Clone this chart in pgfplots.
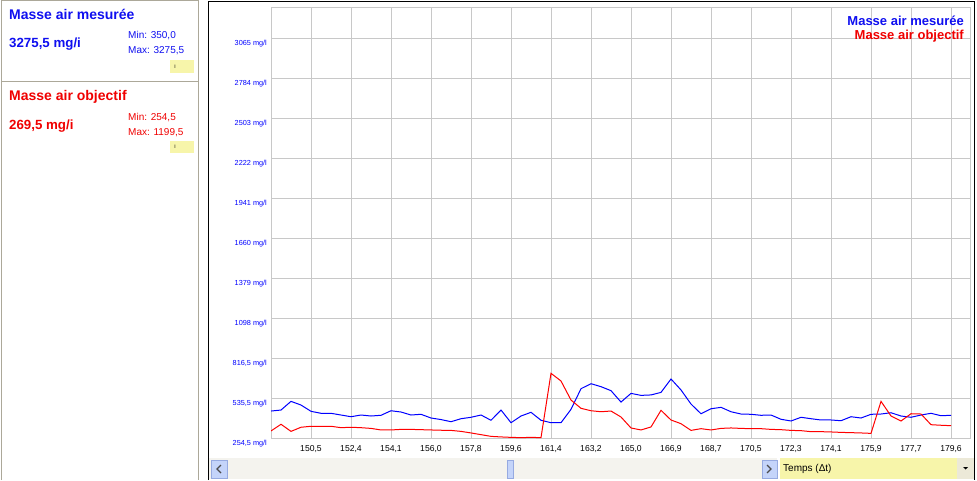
\documentclass[border=0pt]{standalone}
\usepackage{pgfplots}
\pgfplotsset{compat=1.18}
\usepackage{fontspec}
\setmainfont{Liberation Sans}

\definecolor{tblue}{RGB}{15,15,240}
\definecolor{tred}{RGB}{240,0,0}
\definecolor{lblue}{RGB}{0,0,255}
\definecolor{lred}{RGB}{255,0,0}
\definecolor{gridgray}{RGB}{200,200,200}
\definecolor{panelline}{RGB}{172,168,153}
\definecolor{noteyellow}{RGB}{247,245,170}
\definecolor{xpgray}{RGB}{236,233,216}
\definecolor{scrollbg}{RGB}{244,243,238}
\definecolor{btnblue}{RGB}{196,212,250}
\definecolor{btnline}{RGB}{150,170,225}

\newcommand\fs[1]{\fontsize{#1}{#1}\selectfont}

% mesured air mass, one point every 10 px (x = point index)
\pgfplotstableread{
i  v
0  444
1  451
2  512
3  486
4  442
5  428
6  428
7  416
8  404
9  416
10 409
11 414
12 446
13 437
14 416
15 421
16 395
17 384
18 369
19 390
20 400
21 416
22 379
23 451
24 362
25 409
26 435
27 379
28 362
29 362
30 456
31 601
32 636
33 615
34 587
35 507
36 568
37 554
38 557
39 575
40 669
41 592
42 493
43 425
44 460
45 470
46 439
47 423
48 421
49 414
50 416
51 386
52 374
53 400
54 390
55 381
56 381
57 376
58 404
59 395
60 421
61 423
62 432
63 409
64 400
65 416
66 428
67 411
68 414
}\mesuree

% target air mass
\pgfplotstableread{
i  v
0  304
1  351
2  301
3  330
4  337
5  337
6  337
7  327
8  330
9  327
10 322
11 311
12 311
13 315
14 315
15 313
16 311
17 309
18 308
19 301
20 290
21 278
22 266
23 262
24 259
25 257
26 259
27 257
28 709
29 655
30 521
31 463
32 446
33 439
34 444
35 402
36 325
37 311
38 332
39 449
40 381
41 355
42 308
43 320
44 311
45 322
46 325
47 322
48 320
49 320
50 315
51 313
52 308
53 306
54 299
55 299
56 297
57 294
58 292
59 290
60 287
61 512
62 409
63 374
64 425
65 423
66 348
67 344
68 341
}\objectif

\begin{document}
\begin{tikzpicture}
\path[use as bounding box, fill=white] (0pt,0pt) rectangle (977pt,480pt);

% left panel
\draw[panelline, line width=1pt] (1pt,0pt) -- (1pt,479pt) -- (198pt,479pt) -- (198pt,0pt);
\draw[panelline, line width=1pt] (1pt,398pt) -- (198pt,398pt);

\node[anchor=base west, inner sep=0pt, text=tblue, font=\bfseries\fs{14}] at (9pt,460pt) {Masse air mesurée};
\node[anchor=base west, inner sep=0pt, text=tblue, font=\bfseries\fs{13.3}] at (9pt,432pt) {3275,5 mg/i};
\node[anchor=base west, inner sep=0pt, text=tblue, font=\fs{10}] at (128pt,441pt) {Min: 350,0};
\node[anchor=base west, inner sep=0pt, text=tblue, font=\fs{10}] at (128pt,426.7pt) {Max: 3275,5};
\fill[noteyellow] (170pt,407pt) rectangle (194pt,420pt);
\node[inner sep=0pt, font=\fs{5}] at (175pt,413.5pt) {I};

\node[anchor=base west, inner sep=0pt, text=tred, font=\bfseries\fs{14}] at (9pt,379pt) {Masse air objectif};
\node[anchor=base west, inner sep=0pt, text=tred, font=\bfseries\fs{13.3}] at (9pt,350pt) {269,5 mg/i};
\node[anchor=base west, inner sep=0pt, text=tred, font=\fs{10}] at (128pt,359pt) {Min: 254,5};
\node[anchor=base west, inner sep=0pt, text=tred, font=\fs{10}] at (128pt,344.5pt) {Max: 1199,5};
\fill[noteyellow] (170pt,327pt) rectangle (194pt,339pt);
\node[inner sep=0pt, font=\fs{5}] at (175pt,333pt) {I};

% chart frame
\draw[black, line width=1pt] (208pt,0pt) -- (208pt,478pt) -- (974pt,478pt) -- (974pt,0pt);

\begin{axis}[
    at={(271pt,42pt)}, anchor=south west,
    scale only axis, width=699pt, height=430pt,
    xmin=0, xmax=69.9, ymin=254.5, ymax=3275.5,
    xtick={4,8,...,68},
    xticklabels={{150,5},{152,4},{154,1},{156,0},{157,8},{159,6},{161,4},{163,2},{165,0},{166,9},{168,7},{170,5},{172,3},{174,1},{175,9},{177,7},{179,6}},
    ytick={254.5,535.5,816.5,1097.5,1378.5,1659.5,1940.5,2221.5,2502.5,2783.5,3064.5},
    yticklabels={{254,5 mg/l},{535,5 mg/l},{816,5 mg/l},{1098 mg/l},{1379 mg/l},{1660 mg/l},{1941 mg/l},{2222 mg/l},{2503 mg/l},{2784 mg/l},{3065 mg/l}},
    grid=major,
    major grid style={gridgray, line width=1pt},
    axis line style={gridgray, line width=1pt},
    tick style={draw=none},
    major tick length=0pt,
    xticklabel style={font=\fs{8.6}, anchor=north, inner sep=0pt, yshift=-7pt},
    yticklabel style={font=\fs{7.3}, text=lblue, anchor=north east, inner sep=0pt, xshift=-4pt, yshift=-2pt},
]
\addplot[lblue, line width=1pt, mark=none] table[x=i, y=v] {\mesuree};
\addplot[lred, line width=1pt, mark=none] table[x=i, y=v] {\objectif};
\end{axis}

% legend
\node[anchor=base east, inner sep=0pt, text=tblue, font=\bfseries\fs{13}] at (964pt,454pt) {Masse air mesurée};
\node[anchor=base east, inner sep=0pt, text=tred, font=\bfseries\fs{13}] at (964pt,440pt) {Masse air objectif};

% scroll bar
\fill[scrollbg] (209pt,1pt) rectangle (777pt,22pt);
\filldraw[fill=btnblue, draw=btnline] (211pt,2pt) rectangle (227pt,20pt);
\draw[black!70, line width=1.3pt] (221pt,15pt) -- (217pt,11pt) -- (221pt,7pt);
\filldraw[fill=btnblue, draw=btnline] (507pt,2pt) rectangle (513pt,20pt);
\filldraw[fill=btnblue, draw=btnline] (762pt,2pt) rectangle (777pt,20pt);
\draw[black!70, line width=1.3pt] (767pt,15pt) -- (771pt,11pt) -- (767pt,7pt);
\fill[noteyellow] (780pt,1pt) rectangle (957pt,22pt);
\node[anchor=base west, inner sep=0pt, font=\fs{10}] at (783pt,9pt) {Temps (Δt)};
\fill[xpgray] (957pt,1pt) rectangle (973.5pt,22pt);
\fill[black] (963pt,13pt) -- (968pt,13pt) -- (965.5pt,10.5pt) -- cycle;
\end{tikzpicture}
\end{document}
